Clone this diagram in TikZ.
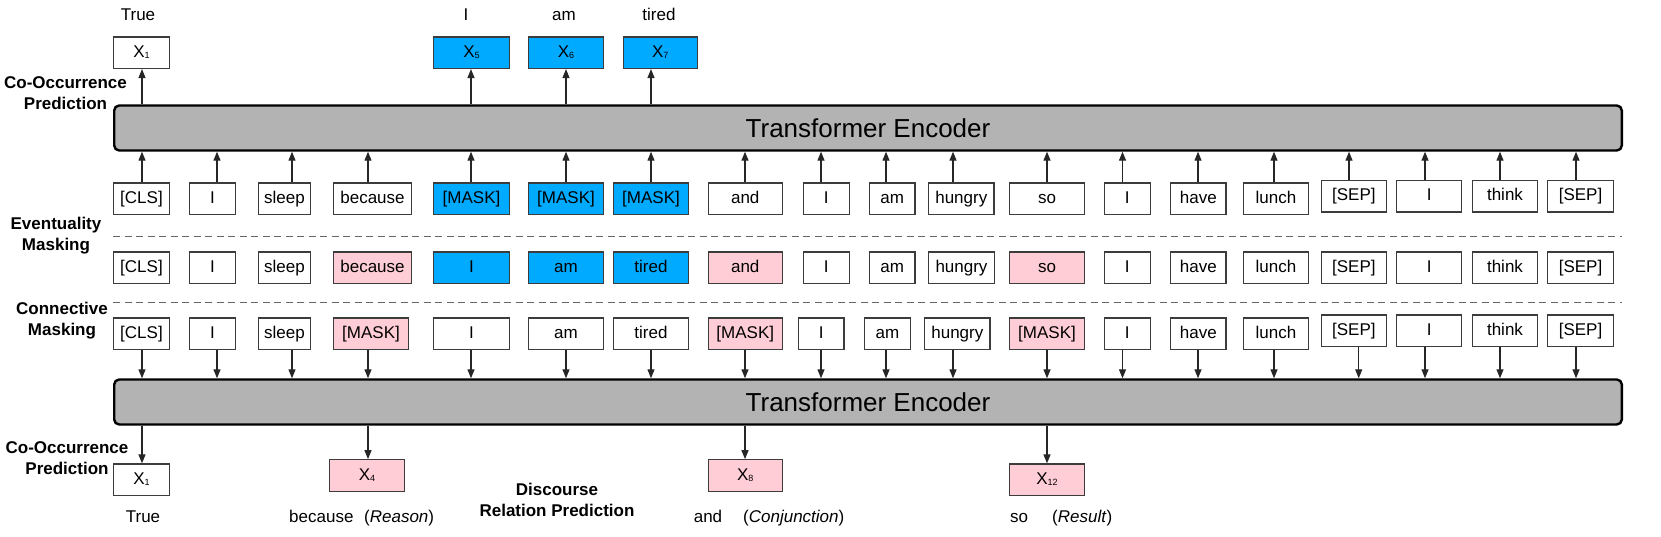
\documentclass[tikz,border=0pt]{standalone}
\usepackage{fontspec}
\setmainfont{Liberation Sans}
\usetikzlibrary{arrows.meta}
\definecolor{mblue}{RGB}{0,170,255}
\definecolor{mpink}{RGB}{255,205,214}
\definecolor{encgray}{RGB}{179,179,179}
\definecolor{bord}{RGB}{60,60,60}
\newcommand\xsub[1]{X\raisebox{-1pt}{\fontsize{9}{9}\selectfont #1}}
\begin{document}
\begin{tikzpicture}[x=1pt,y=-1pt,
  tok/.style={draw=bord,line width=1.3pt,inner sep=0pt,minimum height=31.4pt,
    font=\fontsize{17}{20}\selectfont,text height=12.5pt,text depth=3.5pt},
  enc/.style={draw=black,line width=2.4pt,fill=encgray,rounded corners=5pt,inner sep=0pt,
    minimum width=1507.6pt,minimum height=45pt,font=\fontsize{26}{30}\selectfont},
  arr/.style={draw=black!85,line width=1.2pt,-{Triangle[length=9pt,width=7pt]}},
  lbl/.style={font=\fontsize{17}{21}\selectfont\bfseries,align=center,inner sep=0pt},
  txt/.style={font=\fontsize{17}{20}\selectfont,inner sep=0pt,text height=12.5pt,text depth=3.5pt},
  sepline/.style={draw=black!60,line width=1.5pt,dash pattern=on 7pt off 4.5pt}]

\useasboundingbox (0,0) rectangle (1661,537);

% encoders
\node[enc] (encT) at (868,128) {Transformer Encoder};
\node[enc] (encB) at (868,402) {Transformer Encoder};

% row 1 (top tokens)
\foreach \i/\a/\b/\yc/\c/\t in {
  1/113/170/198.7/white/{[CLS]}, 2/189/236/198.7/white/I, 3/258/311/198.7/white/sleep,
  4/333/412/198.7/white/because, 5/433/510/198.7/mblue/{[MASK]}, 6/528/604/198.7/mblue/{[MASK]},
  7/613/689/198.7/mblue/{[MASK]}, 8/707.5/783/198.7/white/and, 9/802.5/850/198.7/white/I,
  10/868.6/915.7/198.7/white/am, 11/928/994.6/198.7/white/hungry, 12/1009/1085/198.7/white/so,
  13/1103.6/1151/198.7/white/I, 14/1170/1226.7/198.7/white/have, 15/1242.8/1309/198.7/white/lunch,
  16/1320.7/1387/196.3/white/{[SEP]}, 17/1396/1462.4/196.3/white/I, 18/1472/1538/196.3/white/think,
  19/1547/1614/196.3/white/{[SEP]}}
  \node[tok,fill=\c,minimum width={\b-\a-1.3}] (r1-\i) at ({(\a+\b)/2},\yc) {\t};

% row 2 (middle tokens)
\foreach \i/\a/\b/\c/\t in {
  1/113/170/white/{[CLS]}, 2/189/236/white/I, 3/258/311/white/sleep,
  4/333/412/mpink/because, 5/433/510/mblue/I, 6/528/604/mblue/am,
  7/613/689/mblue/tired, 8/707.5/783/mpink/and, 9/802.5/850/white/I,
  10/868.6/915.7/white/am, 11/928/995/white/hungry, 12/1009/1085/mpink/so,
  13/1103.6/1151/white/I, 14/1170/1226.7/white/have, 15/1242.8/1309/white/lunch,
  16/1320.7/1387/white/{[SEP]}, 17/1396/1462.4/white/I, 18/1472/1538/white/think,
  19/1547/1614/white/{[SEP]}}
  \node[tok,fill=\c,minimum width={\b-\a-1.3}] (r2-\i) at ({(\a+\b)/2},267.6) {\t};

% row 3 (bottom tokens)
\foreach \i/\a/\b/\yc/\c/\t in {
  1/113/170/333.7/white/{[CLS]}, 2/189/236/333.7/white/I, 3/258/311/333.7/white/sleep,
  4/333/409/333.7/mpink/{[MASK]}, 5/433/510/333.7/white/I, 6/528/604/333.7/white/am,
  7/613/689/333.7/white/tired, 8/707.5/783/333.7/mpink/{[MASK]}, 9/798/844.6/333.7/white/I,
  10/864/911/333.7/white/am, 11/924/990.7/333.7/white/hungry, 12/1009/1085/333.7/mpink/{[MASK]},
  13/1103.6/1151/333.7/white/I, 14/1170/1226.7/333.7/white/have, 15/1242.8/1309/333.7/white/lunch,
  16/1320.7/1387/330.8/white/{[SEP]}, 17/1396/1462.4/330.8/white/I, 18/1472/1538/330.8/white/think,
  19/1547/1614/330.8/white/{[SEP]}}
  \node[tok,fill=\c,minimum width={\b-\a-1.3}] (r3-\i) at ({(\a+\b)/2},\yc) {\t};

% arrow columns
\foreach \i/\x in {1/142,2/217,3/292,4/368,5/471,6/566,7/651,8/745,9/821,10/886,11/953,12/1047,
  13/1122.5,14/1198,15/1274,16/1349,17/1425,18/1500,19/1576}
  \coordinate (cu\i) at (\x,0);
\foreach \i/\x in {1/142,2/217,3/292,4/368,5/471,6/566,7/651,8/745,9/821,10/886,11/953,12/1047,
  13/1122.5,14/1198,15/1274,16/1358.7,17/1425,18/1500,19/1576}
  \coordinate (cd\i) at (\x,0);

\foreach \i in {1,...,19}{
  \draw[arr] (r1-\i.north -| cu\i) -- (cu\i |- encT.south);
  \draw[arr] (r3-\i.south -| cd\i) -- (cd\i |- encB.north);
}

% separators
\draw[sepline] (113,236.7) -- (1621.7,236.7);
\draw[sepline] (113,302.7) -- (1621.7,302.7);

% top outputs
\node[tok,fill=white,minimum width=55.7pt] (oT1) at (141.5,52.7) {\xsub{1}};
\node[tok,fill=mblue,minimum width=75.7pt] (oT5) at (471.5,52.7) {\xsub{5}};
\node[tok,fill=mblue,minimum width=74.7pt] (oT6) at (566,52.7) {\xsub{6}};
\node[tok,fill=mblue,minimum width=74.2pt] (oT7) at (660.25,52.7) {\xsub{7}};
\draw[arr] (encT.north -| cu1) -- (cu1 |- oT1.south);
\draw[arr] (encT.north -| cu5) -- (cu5 |- oT5.south);
\draw[arr] (encT.north -| cu6) -- (cu6 |- oT6.south);
\draw[arr] (encT.north -| cu7) -- (cu7 |- oT7.south);

\node[txt] (wTrue) at (138,16) {True};
\node[txt] (wI) at (466,16) {I};
\node[txt] (wAm) at (564,16) {am};
\node[txt] (wTired) at (659,16) {tired};

% bottom outputs
\node[tok,fill=white,minimum width=55.7pt] (oB1) at (141.5,479.7) {\xsub{1}};
\node[tok,fill=mpink,minimum width=74.7pt] (oB4) at (367,475.5) {\xsub{4}};
\node[tok,fill=mpink,minimum width=74.2pt] (oB8) at (745.25,475.5) {\xsub{8}};
\node[tok,fill=mpink,minimum width=74.7pt] (oB12) at (1047,479.7) {\xsub{12}};
\draw[arr] (encB.south -| cd1) -- (cd1 |- oB1.north);
\draw[arr] (encB.south -| cd4) -- (cd4 |- oB4.north);
\draw[arr] (encB.south -| cd8) -- (cd8 |- oB8.north);
\draw[arr] (encB.south -| cd12) -- (cd12 |- oB12.north);

\node[txt] (bTrue) at (143,518) {True};
\node[txt,anchor=west] (bBec) at (289,518) {because};
\node[txt,anchor=west] (bRea) at (364,518) {(\textit{Reason})};
\node[txt,anchor=west] (bAnd) at (693.6,518) {and};
\node[txt,anchor=west] (bCon) at (743,518) {(\textit{Conjunction})};
\node[txt,anchor=west] (bSo) at (1010,518) {so};
\node[txt,anchor=west] (bRes) at (1052,518) {(\textit{Result})};

% side labels
\node[lbl] (lTop) at (65.5,93.5) {Co-Occurrence\\Prediction};
\node[lbl] (lEv) at (56,236) {Eventuality\\Masking};
\node[lbl] (lCo) at (62,321) {Connective\\Masking};
\node[lbl] (lBot) at (67,458) {Co-Occurrence\\Prediction};
\node[lbl] (lDis) at (557,500) {Discourse\\Relation Prediction};
\end{tikzpicture}
\end{document}
